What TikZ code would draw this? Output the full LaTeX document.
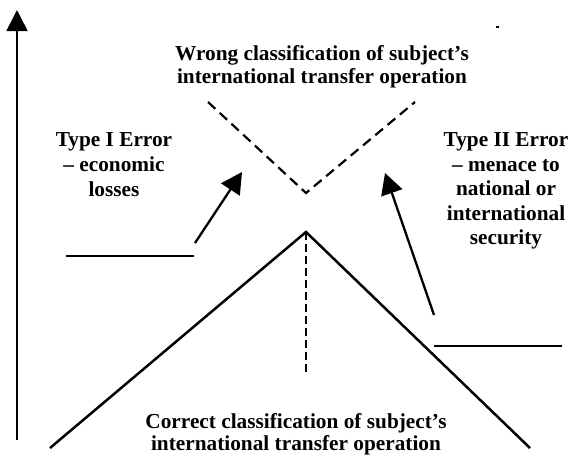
\documentclass[tikz,border=0pt]{standalone}
\usepackage{fontspec}
\setmainfont{Liberation Serif}
\usetikzlibrary{arrows.meta}

\begin{document}
\begin{tikzpicture}[x=1pt,y=-1pt, every node/.style={align=center,inner sep=0pt},
	label text/.style={font=\bfseries\fontsize{21.3}{#1}\selectfont},
	thick line/.style={line width=2.5pt},
	big arrow/.style={line width=2.3pt,-{Triangle[length=21pt,width=22pt]}}]
		\useasboundingbox (0,0) rectangle (570,456);

		\path (322,66.5) node[label text=23] (wrong) {Wrong classification of subject's\\international transfer operation}
		(114,165) node[label text=25] (type1) {Type I Error\\-- economic\\losses}
		(506,191) node[label text=24.5] (type2) {Type II Error\\-- menace to\\national or\\international\\security}
		(296,434) node[label text=22.4] (correct) {Correct classification of subject's\\international transfer operation};

		\path (17,440) coordinate (ax0)
		(17,10) coordinate (ax1)
		(306,232) coordinate (peak)
		(50,448) coordinate (footl)
		(530,448) coordinate (footr)
		(306,373) coordinate (mid)
		(208,102) coordinate (vl)
		(306,193) coordinate (vb)
		(415,102) coordinate (vr)
		(66,256) coordinate (hl0)
		(194,256) coordinate (hl1)
		(434,346) coordinate (hr0)
		(562,346) coordinate (hr1)
		(195,243) coordinate (e1)
		(242,172) coordinate (t1)
		(434,315) coordinate (e2)
		(385,173) coordinate (t2);

		\draw[line width=1.6pt,-{Triangle[length=21pt,width=21pt]}] (ax0) -- (ax1);
		\draw[thick line] (footl) -- (peak) -- (footr);
		\draw[line width=1.8pt,dash pattern=on 8pt off 4pt] (peak) -- (mid);
		\draw[line width=2.2pt,dash pattern=on 10pt off 6pt] (vl) -- (vb) -- (vr);
		\draw[thick line] (hl0) -- (hl1)
		(hr0) -- (hr1);
		\draw[big arrow] (e1) -- (t1);
		\draw[big arrow] (e2) -- (t2);
		\fill (496,26) rectangle (499,28);

	\end{tikzpicture}
\end{document}
